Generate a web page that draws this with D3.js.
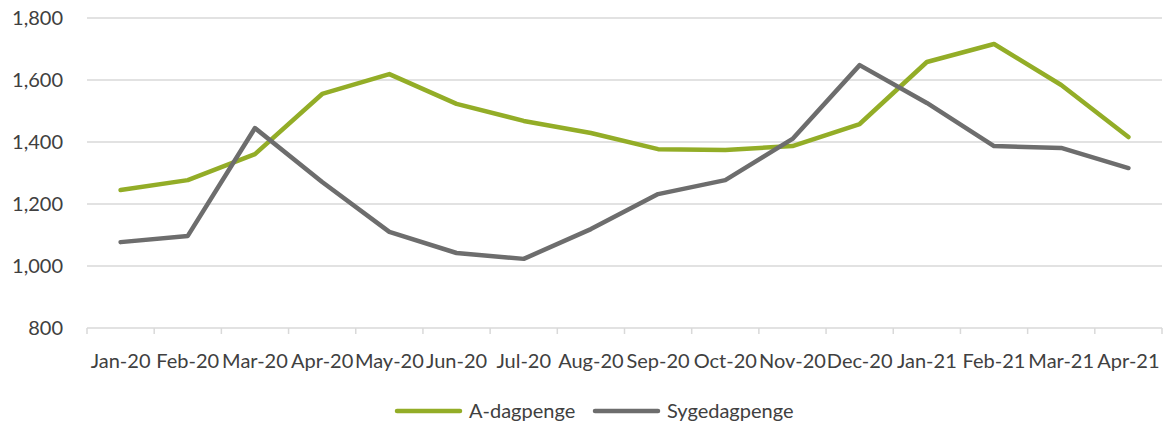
<html>
  <head>
    <meta charset="utf-8" />
    <title>A-dagpenge og sygedagpenge</title>
    <style>
      body { margin: 0; background: #fff; }
      text { font-family: Lato, "Open Sans", sans-serif; fill: #404040; }
    </style>
  </head>
  <body>
    <script src="https://cdnjs.cloudflare.com/ajax/libs/d3/7.8.5/d3.min.js" charset="utf-8"></script>
    <script>
      const months = ["Jan-20", "Feb-20", "Mar-20", "Apr-20", "May-20", "Jun-20", "Jul-20", "Aug-20",
        "Sep-20", "Oct-20", "Nov-20", "Dec-20", "Jan-21", "Feb-21", "Mar-21", "Apr-21"];
      const aDagpenge = [1245, 1277, 1361, 1555, 1619, 1523, 1468, 1429, 1377, 1374, 1387, 1458, 1658, 1716, 1584, 1416];
      const sygedagpenge = [1077, 1097, 1445, 1271, 1110, 1042, 1023, 1119, 1232, 1277, 1410, 1648, 1526, 1387, 1381, 1316];
      const yTicks = [800, 1000, 1200, 1400, 1600, 1800];

      const width = 1164;
      const height = 423;
      const plotLeft = 87, plotRight = 1162, plotTop = 18, plotBottom = 328;

      let svg = d3.select("body").append("svg")
        .attr("width", width)
        .attr("height", height);

      let x = d3.scaleBand().domain(months).range([plotLeft, plotRight]);
      let y = d3.scaleLinear().domain([800, 1800]).range([plotBottom, plotTop]);

      // gridlines
      svg.append("g").selectAll("line")
        .data(yTicks)
        .join("line")
        .attr("x1", plotLeft).attr("x2", plotRight)
        .attr("y1", d => y(d)).attr("y2", d => y(d))
        .attr("stroke", "#d9d9d9")
        .attr("stroke-width", 1.5);

      // y labels
      svg.append("g").selectAll("text")
        .data(yTicks)
        .join("text")
        .attr("x", 63)
        .attr("y", d => y(d))
        .attr("dy", "0.35em")
        .attr("text-anchor", "end")
        .style("font-size", "20px")
        .text(d => d3.format(",")(d));

      // x tick marks
      let tickPos = months.map(m => x(m)).concat([plotRight]);
      svg.append("g").selectAll("line")
        .data(tickPos)
        .join("line")
        .attr("x1", d => d).attr("x2", d => d)
        .attr("y1", plotBottom).attr("y2", plotBottom + 6)
        .attr("stroke", "#d9d9d9")
        .attr("stroke-width", 1.5);

      // x labels
      svg.append("g").selectAll("text")
        .data(months)
        .join("text")
        .attr("x", d => x(d) + x.bandwidth() / 2)
        .attr("y", 368)
        .attr("text-anchor", "middle")
        .style("font-size", "20px")
        .text(d => d);

      const series = [
        { name: "A-dagpenge", values: aDagpenge, color: "#93ad27" },
        { name: "Sygedagpenge", values: sygedagpenge, color: "#6d6d6d" }
      ];

      let line = d3.line()
        .x((d, i) => x(months[i]) + x.bandwidth() / 2)
        .y(d => y(d));

      svg.append("g").selectAll("path")
        .data(series)
        .join("path")
        .attr("d", d => line(d.values))
        .attr("fill", "none")
        .attr("stroke", d => d.color)
        .attr("stroke-width", 4.5)
        .attr("stroke-linejoin", "round")
        .attr("stroke-linecap", "round");

      // legend
      const legendX = [397, 595];
      let legend = svg.append("g").selectAll("g")
        .data(series)
        .join("g")
        .attr("transform", (d, i) => `translate(${legendX[i]},411)`);

      legend.append("line")
        .attr("x1", 0).attr("x2", 63)
        .attr("stroke", d => d.color)
        .attr("stroke-width", 4.5)
        .attr("stroke-linecap", "round");

      legend.append("text")
        .attr("x", 72)
        .attr("dy", "0.35em")
        .style("font-size", "20px")
        .text(d => d.name);
    </script>
  </body>
</html>
